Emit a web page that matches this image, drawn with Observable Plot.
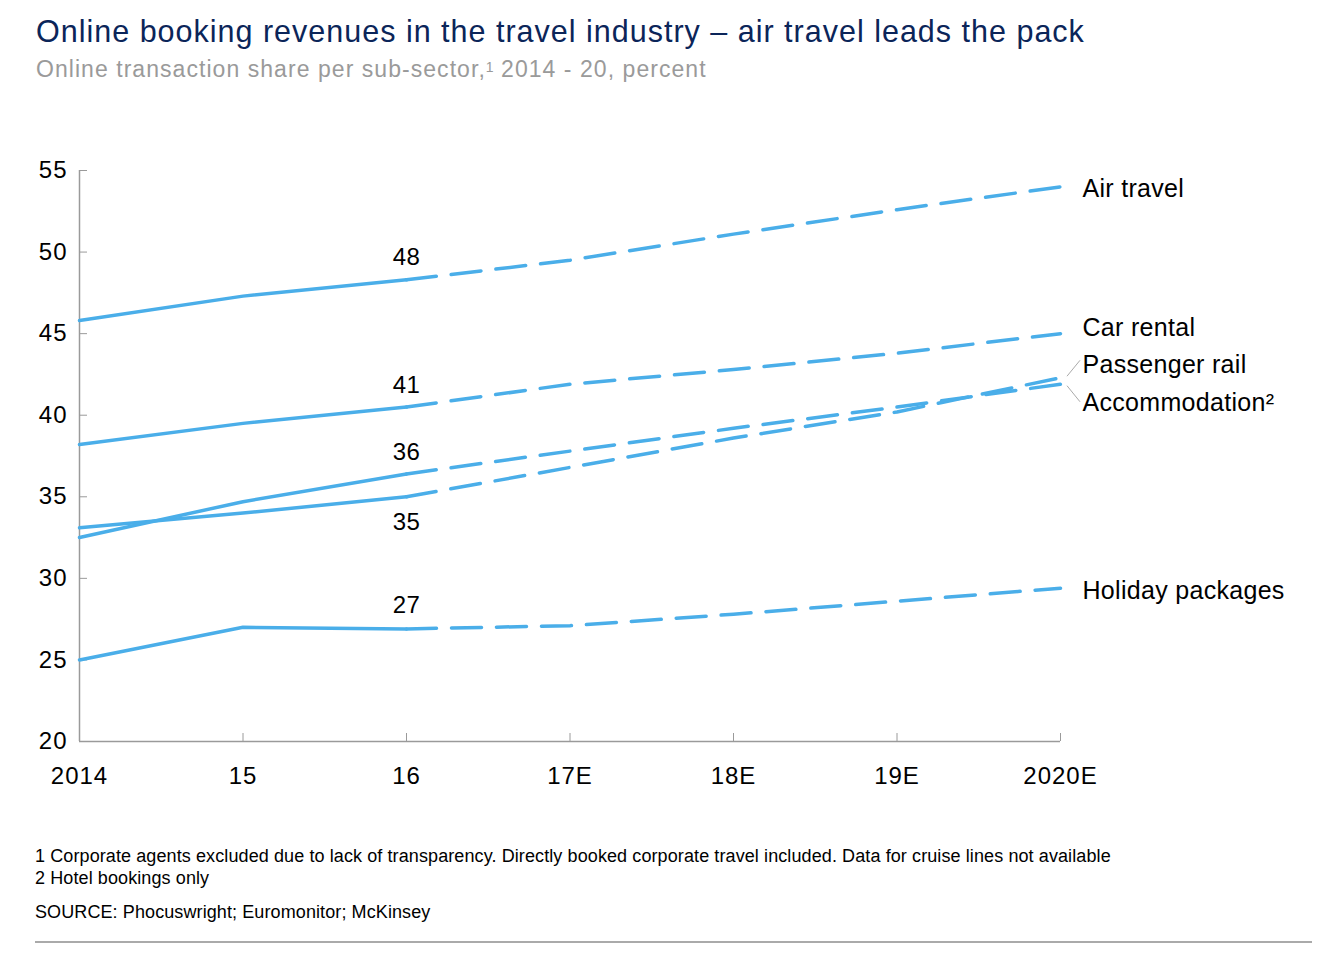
<!DOCTYPE html>
<html><head><meta charset="utf-8">
<script src="https://cdn.jsdelivr.net/npm/d3@7"></script>
<script src="https://cdn.jsdelivr.net/npm/@observablehq/plot@0.6"></script>
<style>
body{margin:0;background:#fff;font-family:"Liberation Sans",Arial,sans-serif;width:1328px;height:962px;position:relative;overflow:hidden}
#title{position:absolute;left:36px;top:13px;font-size:30.5px;line-height:36px;letter-spacing:1px;color:#0b2559;white-space:nowrap}
#subtitle{position:absolute;left:36px;top:55px;font-size:23px;line-height:28px;letter-spacing:1.05px;color:#9a9a9a;white-space:nowrap}
#subtitle sup{font-size:14px;vertical-align:top;position:relative;top:-2px;letter-spacing:0}
#chart{position:absolute;left:0;top:100px}
.foot{position:absolute;left:35px;font-size:18px;line-height:20px;letter-spacing:0.1px;color:#000;white-space:nowrap}
#rule{position:absolute;left:35px;top:941px;width:1277px;height:2px;background:#aaa}
</style></head>
<body>
<div id="title">Online booking revenues in the travel industry – air travel leads the pack</div>
<div id="subtitle">Online transaction share per sub-sector,<sup>1</sup> 2014 - 20, percent</div>
<div id="chart"></div>
<div class="foot" style="top:846px">1 Corporate agents excluded due to lack of transparency. Directly booked corporate travel included. Data for cruise lines not available</div>
<div class="foot" style="top:868px">2 Hotel bookings only</div>
<div class="foot" style="top:902px">SOURCE: Phocuswright; Euromonitor; McKinsey</div>
<div id="rule"></div>
<script>
const years = [2014, 2015, 2016, 2017, 2018, 2019, 2020];
const yearLabels = ["2014", "15", "16", "17E", "18E", "19E", "2020E"];
const yTicks = [20, 25, 30, 35, 40, 45, 50, 55];
const seriesNames = ["Air travel", "Car rental", "Passenger rail", "Accommodation²", "Holiday packages"];
const airTravel = [45.8, 47.3, 48.3, 49.5, 51.1, 52.6, 54.0];
const carRental = [38.2, 39.5, 40.5, 41.9, 42.8, 43.8, 45.0];
const passengerRail = [33.1, 34.0, 35.0, 36.8, 38.6, 40.2, 42.3];
const accommodation = [32.5, 34.7, 36.4, 37.8, 39.2, 40.5, 41.9];
const holidayPackages = [25.0, 27.0, 26.9, 27.1, 27.8, 28.6, 29.4];
const labels2016 = ["48", "41", "35", "36", "27"];
const lastActualYear = 2016;

const seriesValues = [airTravel, carRental, passengerRail, accommodation, holidayPackages];
const rows = [];
seriesNames.forEach((name, i) => years.forEach((yr, j) => rows.push({series: name, year: yr, value: seriesValues[i][j]})));
const actual = rows.filter(d => d.year <= lastActualYear);
const forecast = rows.filter(d => d.year >= lastActualYear);
const ann = seriesNames.map((name, i) => ({series: name, year: lastActualYear, value: seriesValues[i][years.indexOf(lastActualYear)], label: labels2016[i]}));
const ends = seriesNames.map((name, i) => ({series: name, year: years[years.length - 1], value: seriesValues[i][years.length - 1]}));

// styling offsets (px) for labels
const annDy = {"Air travel": -22, "Car rental": -22, "Passenger rail": 26, "Accommodation²": -22, "Holiday packages": -24};
const endDy = {"Air travel": 2, "Car rental": -6, "Passenger rail": -13, "Accommodation²": 19, "Holiday packages": 3};

const blue = "#4aaee9";
const font = "Liberation Sans, Arial, sans-serif";

const marks = [
  Plot.ruleY([20], {stroke: "#9a9a9a", strokeWidth: 1.5}),
  Plot.ruleX([2014], {stroke: "#9a9a9a", strokeWidth: 1.5}),
  Plot.axisY({ticks: yTicks, tickSize: -8, tickPadding: 20, stroke: "#9a9a9a", fill: "#000", fontSize: 24, label: null}),
  Plot.axisX({ticks: years, tickSize: -8, tickPadding: 33, stroke: "#9a9a9a", fill: "#000", fontSize: 24, label: null,
    tickFormat: d => yearLabels[years.indexOf(d)]}),
  Plot.line(actual, {x: "year", y: "value", z: "series", stroke: blue, strokeWidth: 3.5, strokeLinejoin: "round"}),
  Plot.line(forecast, {x: "year", y: "value", z: "series", stroke: blue, strokeWidth: 3.5, strokeDasharray: "30,15"})
];
ann.forEach(d => marks.push(Plot.text([d], {x: "year", y: "value", text: "label", dy: annDy[d.series], fontSize: 24, fill: "#000"})));
ends.forEach(d => marks.push(Plot.text([d], {x: "year", y: "value", text: "series", dx: 22, dy: endDy[d.series], textAnchor: "start", fontSize: 25, fill: "#000"})));

const plot = Plot.plot({
  width: 1328, height: 720,
  marginLeft: 79, marginRight: 268, marginTop: 70, marginBottom: 79,
  x: {domain: [2014, 2020]},
  y: {domain: [20, 55]},
  style: {fontFamily: font, fontSize: "24px", color: "#000", background: "#fff", overflow: "visible", letterSpacing: "1px"},
  marks
});
document.getElementById("chart").appendChild(plot);

const svg = d3.select(plot);
svg.selectAll("g[aria-label='text'] text").style("letter-spacing", "0.3px");

// leader lines for the two close labels
const sx = plot.scale("x"), sy = plot.scale("y");
["Passenger rail", "Accommodation²"].forEach(name => {
  const e = ends.find(d => d.series === name);
  const x0 = sx.apply(e.year) + 7, y0 = sy.apply(e.value) + (endDy[name] < 0 ? -1 : 2);
  svg.append("line").attr("x1", x0).attr("y1", y0).attr("x2", x0 + 13).attr("y2", sy.apply(e.value) + endDy[name] * (endDy[name] < 0 ? 1.3 : 0.95))
    .attr("stroke", "#aaa").attr("stroke-width", 1);
});
</script>
</body></html>
